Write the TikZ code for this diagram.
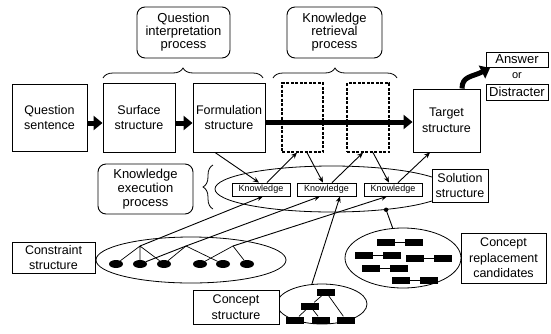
\documentclass[tikz,border=0pt]{standalone}
\usepackage{fontspec}
\setmainfont{Liberation Sans}
\usetikzlibrary{arrows.meta,shapes.geometric,decorations.pathreplacing}

\tikzset{
  box/.style={draw,line width=0.9pt,fill=white,align=center,inner sep=0pt,font=\fontsize{12.5}{15.5}\selectfont},
  procbox/.style={box,rounded corners=8pt,font=\fontsize{13}{13}\selectfont},
  dashbox/.style={draw,line width=1.2pt,dash pattern=on 3pt off 1.5pt},
  kbox/.style={draw,line width=0.8pt,fill=white,inner sep=0pt,minimum height=13pt,font=\fontsize{9}{10}\selectfont},
  blk/.style={fill=black,inner sep=0pt,minimum width=18pt,minimum height=7pt},
  blob/.style={ellipse,fill=black,inner sep=0pt,minimum width=14pt,minimum height=8pt},
  oval/.style={ellipse,draw,line width=0.8pt,inner sep=0pt},
  bigarrow/.style={line width=5pt,-{Triangle[length=9pt,width=14pt]}},
  thinarrow/.style={line width=0.9pt,-{Stealth[length=6pt,width=5pt]}},
  twig/.style={line width=0.7pt},
  curly/.style={decorate,decoration={brace,amplitude=10pt},line width=0.8pt},
}

\begin{document}
\begin{tikzpicture}[x=1pt,y=-1pt]
\useasboundingbox (0,0) rectangle (551,333);
% ovals
\node[oval,minimum width=234pt,minimum height=46pt] (solution) at (332,189) {};
\node[oval,minimum width=190pt,minimum height=46pt] (constraint) at (191,260) {};
\node[oval,minimum width=90pt,minimum height=40pt] (concept) at (322,304) {};
\node[oval,minimum width=116pt,minimum height=60pt] (replace) at (403,258) {};

% top row
\node[box,minimum width=75pt,minimum height=67pt] (question) at (49.5,117.5) {Question\\sentence};
\node[box,minimum width=72pt,minimum height=69pt] (surface) at (139,117.5) {Surface\\structure};
\node[box,minimum width=72pt,minimum height=69pt] (formula) at (229,117.5) {Formulation\\structure};
\node[dashbox,minimum width=41pt,minimum height=69pt] (retr1) at (302.5,117.5) {};
\node[dashbox,minimum width=42pt,minimum height=69pt] (retr2) at (368,117.5) {};
\node[box,minimum width=67pt,minimum height=63pt] (target) at (446.5,120.5) {Target\\structure};
\node[box,minimum width=62pt,minimum height=15pt,font=\fontsize{13}{14}\selectfont] (answer) at (517,59.5) {Answer};
\node[font=\fontsize{11}{12}\selectfont] (or) at (517,75.5) {or};
\node[box,minimum width=62pt,minimum height=16pt,font=\fontsize{13}{14}\selectfont] (distract) at (517,92) {Distracter};

% processes
\node[procbox,minimum width=93pt,minimum height=51pt] (interp) at (183.5,32.5) {Question\\interpretation\\process};
\node[procbox,minimum width=95pt,minimum height=51pt] (retrieve) at (334.5,32.5) {Knowledge\\retrieval\\process};
\node[procbox,minimum width=95pt,minimum height=50pt,font=\fontsize{13}{14}\selectfont] (execute) at (145.5,189) {Knowledge\\execution\\process};
\draw[curly] (103,78) -- (263,78);
\draw[curly] (273,78) -- (397,78);
\draw[curly] (213,209) -- (213,165);

% solution structure
\node[kbox,minimum width=58pt] (k1) at (261,189.5) {Knowledge};
\node[kbox,minimum width=59pt] (k2) at (326.5,189.5) {Knowledge};
\node[kbox,minimum width=58pt] (k3) at (393,189.5) {Knowledge};
\node[box,minimum width=56pt,minimum height=33pt] (solbox) at (460,185.5) {Solution\\structure};
\node[box,minimum width=83pt,minimum height=31pt] (conbox) at (53.5,257.5) {Constraint\\structure};
\node[box,minimum width=86pt,minimum height=34pt] (cptbox) at (236,307) {Concept\\structure};
\node[box,minimum width=85pt,minimum height=50pt] (repbox) at (503.5,258) {Concept\\replacement\\candidates};

% constraint tree
\foreach \x [count=\i] in {116,140,164,200,223,247}
  \node[blob] (d\i) at (\x,264) {};
\coordinate (ca) at (140,246);
\coordinate (cb) at (186,246);
\coordinate (cc) at (233,246);
\draw[twig] (ca) -- (d1) (ca) -- (d2) (ca) -- (d3)
  (cb) -- (d3) (cb) -- (d5) (cc) -- (d4) (cc) -- (d6);

% concept tree
\node[blk] (t1) at (326,292) {};
\node[blk] (t2) at (310,306) {};
\node[blk] (t3) at (295,320) {};
\node[blk] (t4) at (321,320) {};
\node[blk] (t5) at (346,320) {};
\draw[twig] (t1) -- (t2) (t1) -- (t5) (t2) -- (t3) (t2) -- (t4);

% replacement pairs
\foreach \x/\y [count=\i] in {386/242,364/255,415/258,371/268,401/280} {
  \node[blk] (pl\i) at (\x,\y) {};
  \node[blk] (pr\i) at (\x+28,\y) {};
  \draw[twig] (pl\i) -- (pr\i);
}

% knowledge flow
\draw[thinarrow] ([xshift=-14pt]formula.south) -- ([xshift=-2pt]k1.north);
\draw[thinarrow] ([xshift=6pt]k1.north) -- ([xshift=-5.5pt]retr1.south);
\draw[thinarrow] ([xshift=4.5pt]retr1.south) -- ([xshift=-3.5pt]k2.north);
\draw[thinarrow] ([xshift=5.5pt]k2.north) -- ([xshift=-5pt]retr2.south);
\draw[thinarrow] ([xshift=5pt]retr2.south) -- ([xshift=-4pt]k3.north);
\draw[thinarrow] ([xshift=5pt]k3.north) -- ([xshift=-16.5pt]target.south);
\draw[thinarrow] (ca) -- ([xshift=2pt]k1.south);
\draw[line width=0.9pt] (d2) -- (cb);
\draw[thinarrow] (cb) -- ([xshift=-6.5pt]k2.south);
\draw[thinarrow] (cc) -- ([xshift=-6pt]k3.south);
\draw[thinarrow] (concept.117) -- ([xshift=13.5pt]k2.south);
\coordinate (sdot) at (solution.-21);
\fill (sdot) circle (2.2pt);
\draw[line width=0.9pt] (sdot) -- (replace.109);

% main flow
\draw[bigarrow] ([yshift=-5.5pt]question.east) -- ([yshift=-5.5pt]surface.west);
\draw[bigarrow] ([yshift=-5.5pt]surface.east) -- ([yshift=-5.5pt]formula.west);
\draw[bigarrow] ([yshift=-4.5pt]formula.east) -- ([yshift=-4.5pt]formula.east -| target.west);
\coordinate (outtip) at (490,68);
\draw[bigarrow] ([xshift=15.5pt]target.north) .. controls (462,76) and (472,77) .. (outtip);
\end{tikzpicture}
\end{document}
